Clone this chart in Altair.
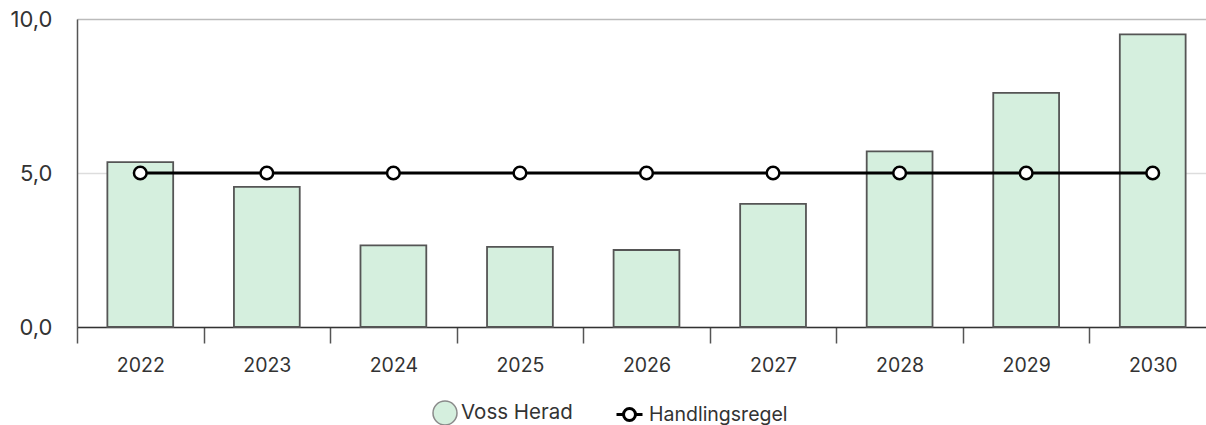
import altair as alt
import pandas as pd

years = ["2022", "2023", "2024", "2025", "2026", "2027", "2028", "2029", "2030"]
voss_herad = [5.35, 4.55, 2.65, 2.6, 2.5, 4.0, 5.7, 7.6, 9.5]
handlingsregel = [5.0, 5.0, 5.0, 5.0, 5.0, 5.0, 5.0, 5.0, 5.0]
y_ticks = [0, 5, 10]

bar_df = pd.DataFrame({"year": years, "value": voss_herad, "series": ["Voss Herad"] * len(years)})
line_df = pd.DataFrame({"year": years, "value": handlingsregel, "series2": ["Handlingsregel"] * len(years)})

FONT = "Inter"
FS = 19.5
GREEN = "#d5efde"

x_enc = alt.X(
    "year:N",
    scale=alt.Scale(paddingInner=0, paddingOuter=0),
    axis=alt.Axis(
        title=None, labelAngle=0, labelFontSize=FS, labelColor="#333", labelFont=FONT,
        domainColor="#333", domainWidth=1.5, tickColor="#555", tickWidth=1.5, tickSize=16,
        tickBand="extent", tickExtra=False, labelPadding=13,
    ),
)
y_enc = alt.Y(
    "value:Q",
    scale=alt.Scale(domain=[0, 10], nice=False),
    axis=alt.Axis(
        title=None, values=y_ticks, ticks=False, labelFontSize=22, labelColor="#333", labelFont=FONT,
        labelPadding=25, labelExpr="replace(format(datum.value, '.1f'), '.', ',')",
        domainColor="#555", domainWidth=1.5,
        gridColor=alt.condition("datum.value == 10", alt.value("#bbbbbb"), alt.value("#dddddd")),
        gridWidth=1.5,
    ),
)

bars = alt.Chart(bar_df).mark_bar(
    stroke="#555555", strokeWidth=1.8, width=alt.RelativeBandSize(0.52)
).encode(
    x=x_enc,
    y=y_enc,
    fill=alt.Fill(
        "series:N",
        scale=alt.Scale(domain=["Voss Herad"], range=[GREEN]),
        legend=alt.Legend(
            title=None, orient="none", legendX=355, legendY=381,
            symbolType="circle", symbolSize=576, symbolStrokeColor="#8a8a8a", symbolStrokeWidth=1.5,
            labelFontSize=20.5, labelColor="#333", labelFont=FONT, labelOffset=3,
        ),
    ),
)

line = alt.Chart(line_df).mark_line(strokeWidth=3).encode(
    x=alt.X("year:N"),
    y=alt.Y("value:Q"),
    stroke=alt.Stroke(
        "series2:N",
        scale=alt.Scale(domain=["Handlingsregel"], range=["black"]),
        legend=alt.Legend(
            title=None, orient="none", legendX=538, legendY=381,
            symbolType="M-1,0L-0.46,0M0.46,0L1,0M-0.46,0A0.46,0.46,0,1,1,0.46,0A0.46,0.46,0,1,1,-0.46,0Z",
            symbolSize=676, symbolFillColor="white", symbolStrokeColor="black", symbolStrokeWidth=3,
            labelFontSize=FS, labelColor="#333", labelFont=FONT, labelOffset=5,
        ),
    ),
)

points = alt.Chart(line_df).mark_point(
    filled=True, fill="white", stroke="black", strokeWidth=2.5, size=160, opacity=1, shape="circle"
).encode(
    x=alt.X("year:N"),
    y=alt.Y("value:Q"),
)

chart = (
    alt.layer(bars, line, points)
    .properties(
        width=1139, height=308,
        autosize=alt.AutoSizeParams(type="none"),
        padding={"left": 77, "top": 19, "right": -10, "bottom": 98},
    )
    .configure_view(stroke=None)
    .configure(font=FONT)
)

chart.save("out.html", embed_options={"renderer": "svg", "actions": False})
